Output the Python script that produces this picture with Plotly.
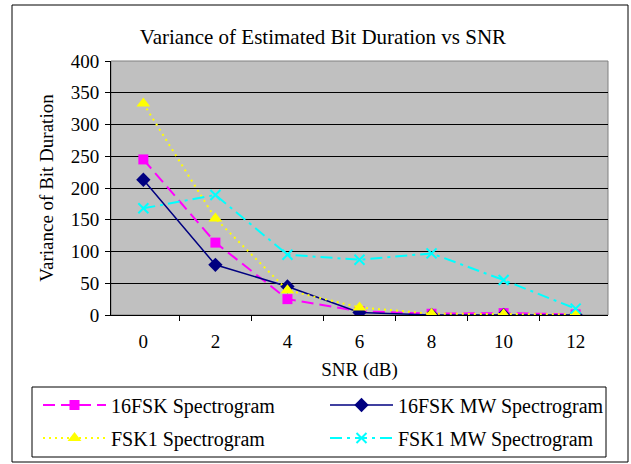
import plotly.graph_objects as go

snr = ["0", "2", "4", "6", "8", "10", "12"]
fsk16_spec = [245, 114, 25, 6, 2, 3, 1]
fsk16_mw = [213, 79, 45, 4, 0, 0, 0]
fsk1_spec = [333, 152, 39, 12, 2, 1, 1]
fsk1_mw = [168, 189, 95, 87, 97, 55, 10]

FONT = "Liberation Serif"

# plot area in pixels: x 111..608, y 61..315
PL, PR, PT, PB = 111, 608, 61, 315
PW, PH = PR - PL, PB - PT


def px_x(x):
    return (x - PL) / PW


def px_y(y):
    return (PB - y) / PH


fig = go.Figure()
fig.add_trace(go.Scatter(
    x=snr, y=fsk16_spec, mode="lines+markers", name="16FSK Spectrogram",
    line=dict(color="#FF00FF", width=2, dash="12px,6px"),
    marker=dict(symbol="square", size=10, color="#FF00FF"),
    legend="legend",
))
fig.add_trace(go.Scatter(
    x=snr, y=fsk16_mw, mode="lines+markers", name="16FSK MW Spectrogram",
    line=dict(color="#000080", width=1.5),
    marker=dict(symbol="diamond", size=11, color="#000080"),
    legend="legend2",
))
fig.add_trace(go.Scatter(
    x=snr, y=fsk1_spec, mode="lines+markers", name="FSK1 Spectrogram",
    line=dict(color="#FFFF00", width=2, dash="2px,4px"),
    marker=dict(symbol="triangle-up", size=12, color="#FFFF00"),
    legend="legend3",
))
fig.add_trace(go.Scatter(
    x=snr, y=fsk1_mw, mode="lines+markers", name="FSK1 MW Spectrogram",
    line=dict(color="#00FFFF", width=2, dash="12px,5px,3px,5px"),
    marker=dict(symbol="x-thin", size=10, color="#00FFFF",
                line=dict(width=2, color="#00FFFF")),
    legend="legend4",
))

# outer chart border, legend box and plot-area frame
fig.add_shape(type="rect", xref="paper", yref="paper",
              x0=px_x(12), x1=px_x(628), y0=px_y(462), y1=px_y(5),
              line=dict(color="black", width=1))
fig.add_shape(type="rect", xref="paper", yref="paper",
              x0=px_x(32), x1=px_x(606), y0=px_y(457), y1=px_y(387),
              line=dict(color="black", width=1))
fig.add_shape(type="rect", xref="paper", yref="paper",
              x0=0, x1=1, y0=0, y1=1,
              line=dict(color="#808080", width=1), layer="below")

legend_common = dict(
    orientation="v", xanchor="left", yanchor="middle",
    bgcolor="rgba(0,0,0,0)", borderwidth=0,
    font=dict(family=FONT, size=20, color="black"), itemwidth=63,
)

fig.update_layout(
    width=631, height=464,
    margin=dict(l=PL, r=631 - PR, t=PT, b=464 - PB, autoexpand=False),
    paper_bgcolor="white",
    plot_bgcolor="#C0C0C0",
    font=dict(family=FONT, size=19, color="black"),
    showlegend=True,
    title=dict(text="Variance of Estimated Bit Duration vs SNR",
               x=323 / 631, xanchor="center", y=1 - 37 / 464, yanchor="middle",
               font=dict(family=FONT, size=21)),
    xaxis=dict(
        type="category", tickson="boundaries", ticks="outside", ticklen=5,
        tickcolor="black", showline=True, linecolor="black", showgrid=False,
        ticklabelstandoff=9,
        title=dict(text="SNR (dB)", standoff=11, font=dict(family=FONT, size=19)),
        tickfont=dict(family=FONT, size=19),
    ),
    yaxis=dict(
        range=[0, 400], dtick=50, ticks="outside", ticklen=5, tickcolor="black",
        showline=True, linecolor="black", showgrid=True, gridcolor="black",
        gridwidth=1, zeroline=False, ticklabelstandoff=2,
        title=dict(text="Variance of Bit Duration", standoff=12,
                   font=dict(family=FONT, size=19)),
        tickfont=dict(family=FONT, size=19),
    ),
    legend=dict(x=px_x(38), y=px_y(405), **legend_common),
    legend2=dict(x=px_x(325), y=px_y(405), **legend_common),
    legend3=dict(x=px_x(38), y=px_y(438), **legend_common),
    legend4=dict(x=px_x(325), y=px_y(438), **legend_common),
)

# drop the default page margin so the figure sits at the window origin
fig.write_html("out.html", config={"displayModeBar": False},
               post_script="document.body.style.margin='0';")
